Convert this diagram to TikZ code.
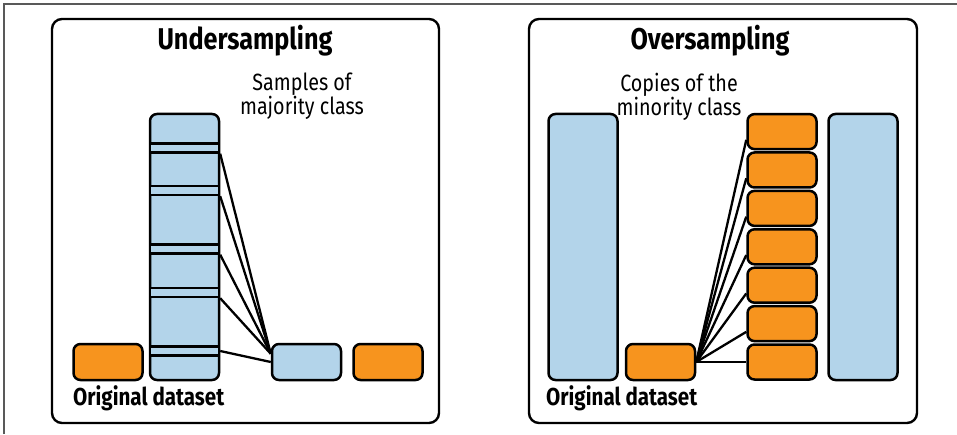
\documentclass[tikz,border=0pt]{standalone}
\usepackage{fontspec}
\setmainfont{Fira Sans}[FakeStretch=0.84]
\definecolor{majblue}{HTML}{B3D4EA}
\definecolor{minorange}{HTML}{F7941E}
\tikzset{
  panel/.style={draw, line width=2.4pt, rounded corners=10pt},
  block/.style={draw, line width=2.5pt, rounded corners=7pt, inner sep=0pt,
                minimum width=69pt},
  strip/.style={draw, line width=2.4pt, inner sep=0pt, minimum width=69pt,
                minimum height=9pt},
  link/.style={line width=2.3pt},
  title/.style={font=\fontsize{30pt}{32pt}\selectfont\bfseries, anchor=base,
                inner sep=0pt},
  note/.style={font=\fontsize{23.5pt}{24pt}\selectfont, align=center,
               anchor=north, inner sep=0pt},
  caption/.style={font=\fontsize{24.5pt}{26pt}\selectfont\bfseries,
                  anchor=base west, inner sep=0pt}
}

\begin{document}
\begin{tikzpicture}[x=1pt, y=1pt]
\useasboundingbox (0,0) rectangle (957,434);
\draw[line width=1.5pt, black!65] (4,0) -- (4,430) -- (957,430);

% undersampling
\begin{scope}
\draw[panel] (52,11) rectangle (439,415);
\node[title] (under) at (245,384) {Undersampling};
\node[note] (samples) at (302,361) {Samples of\\majority class};

\node[block, fill=minorange, minimum height=36pt] (minA) at (108,72) {};
\node[block, fill=majblue, minimum height=266pt] (majA) at (184.5,187) {};
\foreach \i/\y in {1/286, 2/243.5, 3/185, 4/141.5, 5/83}
  \node[strip, fill=majblue] (s\i) at (184.5,\y) {};
\node[block, fill=majblue, minimum height=36pt] (tgt) at (306.5,72) {};
\node[block, fill=minorange, minimum height=36pt] (minB) at (388,72) {};

\foreach \i in {1,...,4}
  \draw[link] (s\i.south east) -- (tgt.167);
\draw[link] (s5.east) -- (tgt.west);

\node[caption] (origA) at (73,29) {Original dataset};
\end{scope}

% oversampling
\begin{scope}
\draw[panel] (529,11) rectangle (917,415);
\node[title] (over) at (710,384) {Oversampling};
\node[note] (copies) at (679,361) {Copies of the\\minority class};

\node[block, fill=majblue, minimum height=266pt] (majC) at (583,187) {};
\node[block, fill=minorange, minimum height=36pt] (src) at (660.5,72) {};
\foreach \k in {0,...,6}
  \node[block, fill=minorange, minimum height=35pt] (cp\k) at (782,72+38.4*\k) {};
\node[block, fill=majblue, minimum height=266pt] (majD) at (863,187) {};

\foreach \k in {1,...,6}
  \draw[link] (src.east) -- (cp\k.193);
\draw[link] (src.east) -- (cp0.west);

\node[caption] (origB) at (546,29) {Original dataset};
\end{scope}

\end{tikzpicture}
\end{document}
